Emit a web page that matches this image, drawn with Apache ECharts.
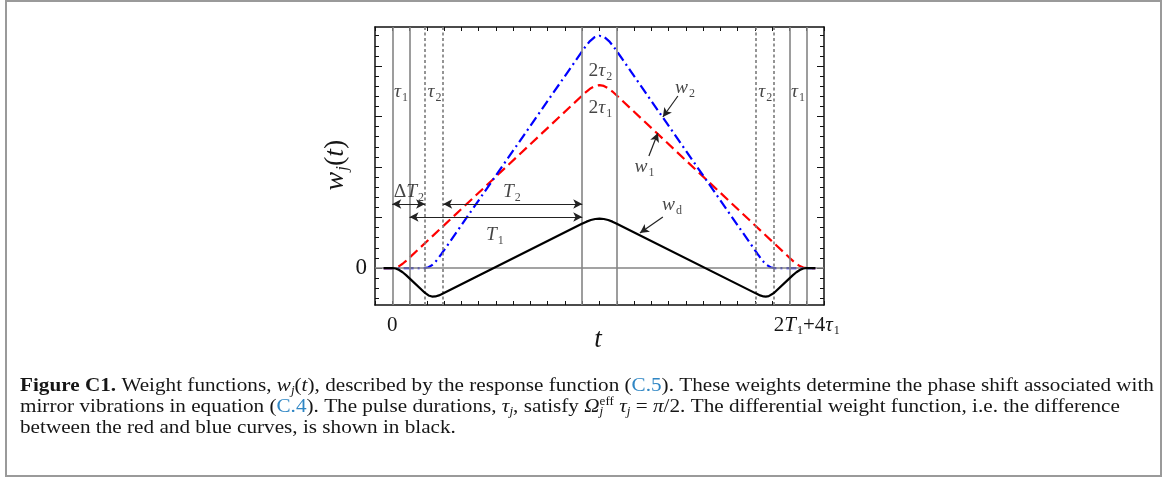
<!DOCTYPE html>
<html><head><meta charset="utf-8">
<script src="https://cdn.jsdelivr.net/npm/echarts@6/dist/echarts.min.js"></script>
<style>html,body{margin:0;padding:0;background:#fff;}#c{width:1165px;height:477px;}</style>
</head><body><div id="c"></div>
<script>
// ---- data (t in units of tau1, w in arbitrary units) ----
const w1Points = [[-0.5,0],[0,0],[0.2,0.050],[0.4,0.195],[0.6,0.421],[0.8,0.707],[0.9,0.863],[1,1.022],[11,17.082],[11.25,17.474],[11.5,17.805],[11.75,18.027],[12,18.105],[12.25,18.027],[12.5,17.805],[12.75,17.474],[13,17.082],[23,1.022],[23.1,0.863],[23.2,0.707],[23.4,0.421],[23.6,0.195],[23.8,0.050],[24,0],[24.5,0]];
const w2Points = [[-0.5,0],[1.9,0],[2.1,0.073],[2.2,0.163],[2.3,0.286],[2.4,0.440],[2.5,0.620],[2.6,0.823],[2.7,1.045],[2.85,1.401],[2.95,1.646],[10.95,21.350],[11.2,21.952],[11.45,22.470],[11.7,22.834],[12,22.997],[12.3,22.834],[12.55,22.470],[12.8,21.952],[13.05,21.350],[21.05,1.646],[21.15,1.401],[21.3,1.045],[21.4,0.823],[21.5,0.620],[21.6,0.440],[21.7,0.286],[21.8,0.163],[21.9,0.073],[22.1,0],[24.5,0]];
const wdPoints = [[-0.5,0],[0,0],[0.2,-0.050],[0.4,-0.195],[0.6,-0.421],[0.8,-0.707],[0.9,-0.863],[1,-1.022],[1.9,-2.468],[2.1,-2.716],[2.2,-2.787],[2.3,-2.824],[2.37,-2.832],[2.5,-2.812],[2.6,-2.769],[2.7,-2.708],[2.85,-2.593],[2.95,-2.508],[10.95,4.348],[11,4.391],[11.25,4.591],[11.5,4.752],[11.75,4.856],[12,4.892],[12.25,4.856],[12.5,4.752],[12.75,4.591],[13,4.391],[13.05,4.348],[21.05,-2.508],[21.15,-2.593],[21.3,-2.708],[21.4,-2.769],[21.5,-2.812],[21.63,-2.832],[21.7,-2.824],[21.8,-2.787],[21.9,-2.716],[22.1,-2.468],[23,-1.022],[23.1,-0.863],[23.2,-0.707],[23.4,-0.421],[23.6,-0.195],[23.8,-0.050],[24,0],[24.5,0]];
const pulseEdgesSolid = [0, 1, 11, 13, 23, 24];
const pulseEdgesDotted = [1.9, 2.95, 21.05, 22.1];
const yMinorTicks = [-3,-2,-1,0,1,2,3,4,5,6,7,8,9,10,11,12,13,14,15,16,17,18,19,20,21,22,23];
const yMajorTicks = [0,5,10,15,20];
const xTickLabels = ['0', '2T1+4τ1'];
const xTickValues = [0, 24];

// ---- styles ----
const SERIF = '"Liberation Serif", "Times New Roman", serif';
const INK = '#161616';
function mkRich(fs, sfs, lh, subPad) {
  return {
    n: {fontFamily: SERIF, fontSize: fs, color: INK, fill: INK, lineHeight: lh},
    i: {fontFamily: SERIF, fontSize: fs, fontStyle: 'italic', color: INK, fill: INK, lineHeight: lh},
    s: {fontFamily: SERIF, fontSize: sfs, color: INK, fill: INK, lineHeight: lh, padding: [subPad, 0, 0, 1]},
    si: {fontFamily: SERIF, fontSize: sfs, fontStyle: 'italic', color: INK, fill: INK, lineHeight: lh, padding: [subPad, 0, 0, 1]}
  };
}
const annRich = mkRich(19.5, 12, 28, 12);
const tickRich = mkRich(21, 12, 28, 12);

function capRich() {
  const fs = 18.5, lh = 22;
  return {
    b: {fontFamily: SERIF, fontSize: fs, fontWeight: 'bold', fill: INK, lineHeight: lh},
    i: {fontFamily: SERIF, fontSize: fs, fontStyle: 'italic', fill: INK, lineHeight: lh},
    l: {fontFamily: SERIF, fontSize: fs, fill: '#2f86c4', lineHeight: lh},
    si: {fontFamily: SERIF, fontSize: 11.5, fontStyle: 'italic', fill: INK, lineHeight: lh, padding: [9, 0, 0, 0]},
    sj: {fontFamily: SERIF, fontSize: 11.5, fontStyle: 'italic', fill: INK, lineHeight: lh, padding: [9, 0, 0, 0], width: 0},
    sup: {fontFamily: SERIF, fontSize: 11.5, fill: INK, lineHeight: lh, padding: [0, 0, 10, 0]}
  };
}

const chart = echarts.init(document.getElementById('c'));
const xMin = -1, xMax = 25, yMin = -3.66, yMax = 23.86;
const grid = {left: 375, top: 27, width: 449, height: 278};

function yAxisDef(pos, ticks, len, showLine, labels) {
  return {
    type: 'value', position: pos, min: yMin, max: yMax, gridIndex: 0,
    axisLine: {show: showLine, onZero: false, lineStyle: {color: '#111', width: 1.5}},
    axisTick: {show: true, inside: true, length: len, customValues: ticks, lineStyle: {color: '#111', width: 1}},
    axisLabel: labels ? {show: true, customValues: [0], formatter: () => '0', fontFamily: SERIF, fontSize: 23, color: INK, margin: 8} : {show: false},
    splitLine: {show: false}, minorTick: {show: false}
  };
}
function xAxisDef(pos, showLabels) {
  return {
    type: 'value', position: pos, min: xMin, max: xMax, interval: 1,
    axisLine: {show: true, onZero: false, lineStyle: {color: '#111', width: 1.5}},
    axisTick: {show: true, inside: true, length: 4, lineStyle: {color: '#111', width: 1}},
    axisLabel: showLabels ? {
      show: true, customValues: xTickValues, margin: 6,
      formatter: v => v === xTickValues[0] ? '{n|' + xTickLabels[0] + '}' : '{n|2}{i|T}{s|1}{n|+4}{i|τ}{s|1}',
      rich: tickRich
    } : {show: false},
    splitLine: {show: false}
  };
}

function label(pos, text) {
  return {value: pos, label: {show: true, formatter: text}};
}

const capBase = {verticalAlign: 'middle', font: '18.5px ' + SERIF, fill: INK, rich: capRich()};
const capScale = 1.145;

chart.setOption({
  animation: false,
  backgroundColor: '#fff',
  grid: grid,
  xAxis: [xAxisDef('bottom', true), xAxisDef('top', false)],
  yAxis: [
    yAxisDef('left', yMinorTicks, 4, true, true),
    yAxisDef('left', yMajorTicks, 7, false, false),
    yAxisDef('right', yMinorTicks, 4, true, false),
    yAxisDef('right', yMajorTicks, 7, false, false)
  ],
  series: [
    {
      type: 'line', data: [], z: 1, silent: true,
      markLine: {
        silent: true, symbol: 'none', label: {show: false}, animation: false,
        lineStyle: {color: '#858585', width: 1.6, type: 'solid'},
        data: [{yAxis: 0}].concat(pulseEdgesSolid.map(v => ({xAxis: v})))
      }
    },
    {
      type: 'line', data: [], z: 1, silent: true,
      markLine: {
        silent: true, symbol: 'none', label: {show: false}, animation: false,
        lineStyle: {color: '#7a7a7a', width: 1.6, type: [3, 2.5]},
        data: pulseEdgesDotted.map(v => ({xAxis: v}))
      }
    },
    {name: 'w1', type: 'line', data: w1Points, showSymbol: false, z: 3, lineStyle: {color: '#ff0000', width: 2.2, type: [10, 5]}},
    {name: 'w2', type: 'line', data: w2Points, showSymbol: false, z: 4, lineStyle: {color: '#0000ff', width: 2.2, type: [10, 4, 2, 4]}},
    {name: 'wd', type: 'line', data: wdPoints, showSymbol: false, z: 5, lineStyle: {color: '#000000', width: 2.2}},
    {
      type: 'line', data: [], z: 6, silent: true,
      markLine: {
        silent: true, label: {show: false}, animation: false, symbolSize: [7, 9],
        lineStyle: {color: '#222', width: 1.2, type: 'solid'},
        data: [
          [{coord: [0, 6.34], symbol: 'arrow'}, {coord: [1.9, 6.34], symbol: 'arrow'}],
          [{coord: [2.95, 6.34], symbol: 'arrow'}, {coord: [11, 6.34], symbol: 'arrow'}],
          [{coord: [1, 5.05], symbol: 'arrow'}, {coord: [11, 5.05], symbol: 'arrow'}],
          [{coord: [16.54, 17.03], symbol: 'none'}, {coord: [15.67, 14.95], symbol: 'arrow'}],
          [{coord: [14.86, 11.09], symbol: 'none'}, {coord: [15.38, 13.37], symbol: 'arrow'}],
          [{coord: [15.67, 5.05], symbol: 'none'}, {coord: [14.34, 3.47], symbol: 'arrow'}]
        ]
      }
    },
    {
      type: 'scatter', symbolSize: 0, z: 7, silent: true,
      label: {show: true, position: 'inside', color: INK, rich: annRich},
      data: [
        label([0.5, 17.4], '{i|τ}{s|1}'),
        label([2.45, 17.4], '{i|τ}{s|2}'),
        label([12.05, 19.5], '{n|2}{i|τ}{s|2}'),
        label([12.05, 15.85], '{n|2}{i|τ}{s|1}'),
        label([21.6, 17.4], '{i|τ}{s|2}'),
        label([23.5, 17.4], '{i|τ}{s|1}'),
        label([16.95, 17.8], '{i|w}{s|2}'),
        label([14.6, 10.0], '{i|w}{s|1}'),
        label([16.2, 6.24], '{i|w}{s|d}'),
        label([0.96, 7.52], '{n|Δ}{i|T}{s|2}'),
        label([6.93, 7.52], '{i|T}{s|2}'),
        label([5.94, 3.27], '{i|T}{s|1}')
      ]
    }
  ],
  graphic: [
    {type: 'rect', silent: true, shape: {x: 6, y: 1, width: 1155, height: 475}, style: {fill: 'none', stroke: '#9a9a9a', lineWidth: 2}},
    {type: 'text', silent: true, x: 598, y: 340, style: {text: 't', font: 'italic 27px ' + SERIF, fill: INK, align: 'center', verticalAlign: 'middle'}},
    {type: 'text', silent: true, x: 336, y: 165, rotation: Math.PI / 2,
      style: {text: '{i|w}{si|j}{n|(}{i|t}{n|)}', align: 'center', verticalAlign: 'middle', rich: mkRich(28, 17, 36, 14)}},
    {type: 'text', silent: true, x: 20, y: 386, scaleX: capScale, style: Object.assign({}, capBase, {
      text: '{b|Figure C1.} Weight functions, {i|w}{si|j}({i|t}), described by the response function ({l|C.5}). These weights determine the phase shift associated with'})},
    {type: 'text', silent: true, x: 20, y: 407, scaleX: capScale, style: Object.assign({}, capBase, {
      text: 'mirror vibrations in equation ({l|C.4}). The pulse durations, {i|τ}{si|j}, satisfy {i|Ω}{sj|j}{sup|eff} {i|τ}{si|j} = {i|π}/2. The differential weight function, i.e. the difference'})},
    {type: 'text', silent: true, x: 20, y: 428, scaleX: capScale, style: Object.assign({}, capBase, {
      text: 'between the red and blue curves, is shown in black.'})}
  ]
});
</script></body></html>
